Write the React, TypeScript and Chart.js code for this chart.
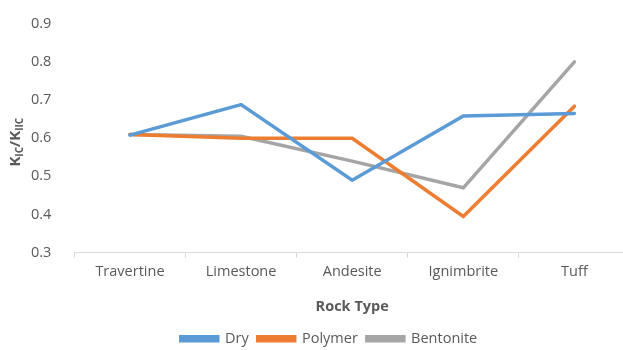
import React, { useEffect, useRef } from "react";
import { Chart, registerables } from "chart.js";

Chart.register(...registerables);

const categories = ["Travertine", "Limestone", "Andesite", "Ignimbrite", "Tuff"];
const dryValues = [0.608, 0.688, 0.49, 0.658, 0.665];
const polymerValues = [0.61, 0.6, 0.6, 0.395, 0.684];
const bentoniteValues = [0.61, 0.605, 0.54, 0.47, 0.8];
const yTicks = [0.3, 0.4, 0.5, 0.6, 0.7, 0.8, 0.9];

const TEXT = "#595959";
const FONT = "'Open Sans', sans-serif";
const FS = 14.5;

const yTitlePlugin = {
  id: "yTitleSub",
  afterLayout(chart: any) {
    if (chart.legend) {
      chart.legend.left += 6;
      chart.legend.right += 6;
      chart.legend.top += 6;
      chart.legend.bottom += 6;
    }
  },
  afterDraw(chart: any) {
    const ctx = chart.ctx;
    const area = chart.chartArea;
    const cy = (area.top + area.bottom) / 2 + 4;
    ctx.save();
    ctx.translate(16, cy);
    ctx.rotate(-Math.PI / 2);
    ctx.fillStyle = TEXT;
    ctx.textBaseline = "middle";
    ctx.textAlign = "left";
    const big = "bold 15px " + FONT;
    const small = "bold 10px " + FONT;
    const parts: [string, string, number][] = [
      ["K", big, 0],
      ["IC", small, 4],
      ["/K", big, 0],
      ["IIC", small, 4],
    ];
    let w = 0;
    for (const [t, f] of parts) {
      ctx.font = f;
      w += ctx.measureText(t).width;
    }
    let x = -w / 2;
    for (const [t, f, dy] of parts) {
      ctx.font = f;
      ctx.fillText(t, x, dy);
      x += ctx.measureText(t).width;
    }
    ctx.restore();
  },
};

export default function App() {
  const ref = useRef<HTMLCanvasElement>(null);
  useEffect(() => {
    if (!ref.current) return;
    const chart = new Chart(ref.current, {
      type: "line",
      data: {
        labels: categories,
        datasets: [
          { label: "Dry", data: dryValues, borderColor: "#5b9bd5", backgroundColor: "#5b9bd5" },
          { label: "Polymer", data: polymerValues, borderColor: "#ed7d31", backgroundColor: "#ed7d31" },
          { label: "Bentonite", data: bentoniteValues, borderColor: "#a5a5a5", backgroundColor: "#a5a5a5" },
        ].map((d) => ({ ...d, borderWidth: 3.5, pointRadius: 0, tension: 0, fill: false, borderCapStyle: "round" as const })),
      },
      options: {
        animation: false,
        responsive: false,
        maintainAspectRatio: false,
        layout: { padding: { left: 16, top: 9, right: 0, bottom: 0 } },
        plugins: {
          legend: {
            position: "bottom",
            labels: {
              boxWidth: 37,
              boxHeight: 4,
              color: TEXT,
              font: { family: FONT, size: FS },
              padding: 9,
            },
          },
          tooltip: { enabled: false },
        },
        scales: {
          x: {
            offset: true,
            grid: {
              display: true,
              offset: true,
              drawOnChartArea: false,
              drawTicks: true,
              tickLength: 5,
              color: "#d9d9d9",
            },
            border: { display: true, color: "#d9d9d9", width: 1 },
            ticks: { color: TEXT, font: { family: FONT, size: FS }, padding: 5, maxRotation: 0 },
            title: {
              display: true,
              text: "Rock Type",
              color: TEXT,
              font: { family: FONT, size: FS, weight: "bold" },
              padding: { top: 13, bottom: 1 },
            },
          },
          y: {
            min: 0.3,
            max: 0.9,
            afterBuildTicks: (axis: any) => {
              axis.ticks = yTicks.map((v) => ({ value: v }));
            },
            grid: { display: false },
            border: { display: false },
            ticks: {
              color: TEXT,
              font: { family: FONT, size: FS },
              padding: 15,
              callback: (v: any) => Number(v).toFixed(1),
            },
          },
        },
      },
      plugins: [yTitlePlugin],
    });
    return () => chart.destroy();
  }, []);
  return (
    <div style={{ position: "absolute", left: 0, top: 0, width: 623, height: 350, overflow: "hidden", background: "#fff" }}>
      <canvas ref={ref} width={630} height={350} style={{ display: "block" }} />
    </div>
  );
}
